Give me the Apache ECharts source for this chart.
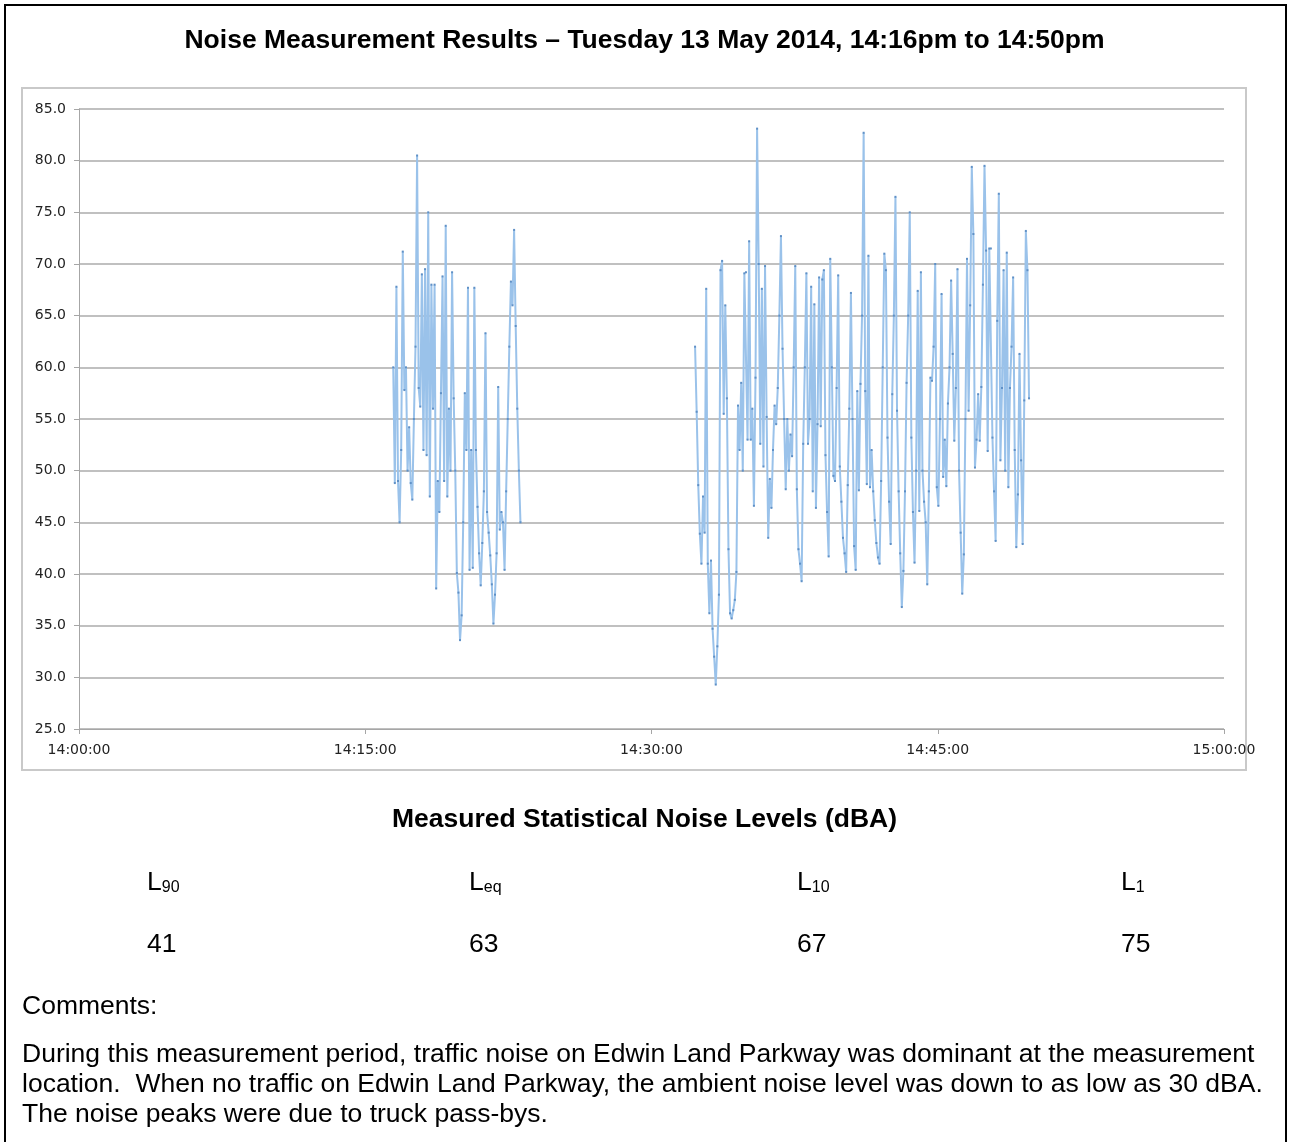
<!DOCTYPE html>
<html>
<head>
<meta charset="utf-8">
<title>Noise Measurement Results</title>
<script src="https://cdn.jsdelivr.net/npm/echarts@6/dist/echarts.min.js"></script>
<style>
  html, body { margin: 0; padding: 0; background: #fff; }
  #chart { width: 1289px; height: 1142px; }
</style>
</head>
<body>
<div id="chart"></div>
<script>
// x axis: minutes after 14:00
var xTicks = ["14:00:00", "14:15:00", "14:30:00", "14:45:00", "15:00:00"];
var stepSec = 5; // logger interval

// first run 14:16:28 onwards
var seg1Start = 988;
var seg1Levels = [60.0, 48.8, 67.8, 49.0, 45.0, 52.0, 71.2, 57.8, 60.0, 50.0,
  54.2, 48.8, 47.2, 55.0, 62.0, 80.5, 58.0, 56.2, 69.0, 52.0,
  69.5, 51.5, 75.0, 47.5, 68.0, 56.0, 68.0, 38.6, 49.0, 46.0,
  57.5, 68.8, 49.0, 73.7, 47.5, 56.0, 50.0, 69.2, 57.0, 50.0,
  40.1, 38.2, 33.6, 36.0, 45.0, 57.5, 52.0, 67.7, 40.4, 52.0,
  40.6, 67.7, 52.0, 46.5, 42.0, 38.9, 43.0, 48.0, 63.3, 46.0,
  44.0, 41.8, 39.0, 35.2, 38.0, 42.0, 58.1, 44.3, 46.0, 45.0,
  40.4, 48.0, 55.0, 62.0, 68.3, 66.0, 73.3, 64.0, 56.0, 50.0, 45.0];

// second run 14:32:17 onwards
var seg2Start = 1937;
var seg2Levels = [62.0, 55.7, 48.6, 43.9, 41.0, 47.5, 44.0, 67.6, 41.0, 36.2,
  41.3, 34.7, 32.0, 29.3, 33.0, 38.0, 69.4, 70.3, 55.5, 66.0,
  57.0, 42.4, 36.2, 35.7, 36.5, 37.5, 40.2, 56.3, 52.0, 58.5,
  50.0, 69.1, 69.2, 53.0, 72.2, 53.0, 56.0, 46.6, 59.0, 83.1,
  70.0, 52.6, 67.6, 50.4, 69.8, 55.2, 43.5, 49.2, 46.4, 52.0,
  56.3, 54.5, 58.0, 65.0, 72.7, 61.8, 55.0, 48.2, 55.0, 50.0,
  53.5, 51.4, 60.0, 69.8, 48.2, 42.4, 41.0, 39.3, 52.6, 60.0,
  69.1, 52.6, 55.0, 67.8, 48.0, 66.1, 46.4, 54.5, 68.7, 54.3,
  68.5, 69.4, 51.5, 46.0, 41.7, 70.5, 60.0, 49.5, 49.0, 58.0,
  68.9, 50.4, 47.0, 43.5, 42.0, 40.2, 48.6, 56.0, 67.2, 55.0,
  42.7, 40.4, 57.7, 48.1, 58.4, 65.0, 82.7, 57.7, 48.7, 70.8,
  48.4, 52.0, 48.0, 45.2, 43.0, 41.6, 41.0, 49.0, 60.0, 71.0,
  69.4, 53.2, 47.0, 42.9, 57.4, 65.0, 76.5, 55.8, 48.0, 42.0,
  36.8, 40.3, 48.0, 58.5, 65.0, 75.0, 53.2, 46.0, 41.1, 50.0,
  67.4, 46.1, 69.2, 50.0, 47.0, 45.0, 39.0, 48.0, 59.0, 58.7,
  62.0, 70.0, 48.4, 46.6, 55.0, 67.1, 49.4, 53.0, 48.5, 56.5,
  60.0, 68.4, 61.3, 52.9, 58.0, 69.5, 50.0, 44.0, 38.1, 41.9,
  55.0, 70.5, 55.8, 66.0, 79.4, 72.9, 50.3, 53.0, 57.4, 52.9,
  58.1, 68.0, 79.5, 71.3, 51.9, 71.5, 71.5, 53.2, 48.0, 43.2,
  64.5, 76.8, 51.0, 58.0, 69.4, 50.0, 71.1, 48.4, 58.0, 62.0,
  68.7, 52.0, 42.6, 47.7, 61.3, 51.0, 42.9, 56.8, 73.2, 69.4, 57.0];

var statNames = ["90", "eq", "10", "1"];
var statValues = [41, 63, 67, 75];

function toPoints(start, levels) {
  return levels.map(function (v, i) {
    return [(start + i * stepSec) / 60, v];
  });
}

var font = "'Liberation Sans', Arial, sans-serif";
var axisFont = "'DejaVu Sans', Verdana, sans-serif";
var statX = [147, 469, 797, 1121];

var graphics = [
  // outer frame
  { type: "rect", shape: { x: 5, y: 5, width: 1281, height: 1140 },
    style: { fill: null, stroke: "#000", lineWidth: 2 }, silent: true },
  // chart box
  { type: "rect", shape: { x: 22, y: 88, width: 1224, height: 682 },
    style: { fill: null, stroke: "#c9c9c9", lineWidth: 2 }, silent: true },
  { type: "text", left: "center", top: 27,
    style: { text: "Noise Measurement Results \u2013 Tuesday 13 May 2014, 14:16pm to 14:50pm",
      font: "bold 26.5px " + font, fill: "#000" } },
  { type: "text", left: "center", top: 806,
    style: { text: "Measured Statistical Noise Levels (dBA)", font: "bold 26.5px " + font, fill: "#000" } },
  { type: "text", left: 22, top: 993,
    style: { text: "Comments:", font: "26.5px " + font, fill: "#000" } },
  { type: "text", left: 22, top: 1040,
    style: { text: "During this measurement period, traffic noise on Edwin Land Parkway was dominant at the measurement\n" +
      "location.  When no traffic on Edwin Land Parkway, the ambient noise level was down to as low as 30 dBA.\n" +
      "The noise peaks were due to truck pass-bys.",
      font: "26.5px " + font, lineHeight: 30, fill: "#000" } }
];

statNames.forEach(function (n, i) {
  graphics.push({
    type: "text", left: statX[i], top: 869,
    style: {
      text: "{b|L}{s|" + n + "}",
      rich: {
        b: { fontSize: 26.5, fontFamily: font, lineHeight: 30, verticalAlign: "bottom", fill: "#000" },
        s: { fontSize: 16, fontFamily: font, lineHeight: 16, verticalAlign: "bottom", fill: "#000" }
      }
    }
  });
  graphics.push({
    type: "text", left: statX[i], top: 931,
    style: { text: String(statValues[i]), font: "26.5px " + font, fill: "#000" }
  });
});

var chart = echarts.init(document.getElementById("chart"));
chart.setOption({
  animation: false,
  backgroundColor: "#fff",
  grid: { left: 79, right: 65, top: 109, bottom: 413 },
  xAxis: {
    type: "value", min: 0, max: 60, interval: 15,
    axisLine: { lineStyle: { color: "#a6a6a6", width: 1 } },
    axisTick: { show: true, length: 5, lineStyle: { color: "#a6a6a6" } },
    splitLine: { show: false },
    axisLabel: {
      margin: 14, color: "#222", fontFamily: axisFont, fontSize: 14,
      formatter: function (v) { return xTicks[Math.round(v / 15)]; }
    }
  },
  yAxis: {
    type: "value", min: 25, max: 85, interval: 5,
    axisLine: { show: true, lineStyle: { color: "#a6a6a6", width: 1 } },
    axisTick: { show: true, length: 5, lineStyle: { color: "#a6a6a6" } },
    splitLine: { lineStyle: { color: "#c0c0c0", width: 2 } },
    axisLabel: {
      margin: 13, color: "#222", fontFamily: axisFont, fontSize: 14,
      formatter: function (v) { return v.toFixed(1); }
    }
  },
  series: [
    {
      type: "line", data: toPoints(seg1Start, seg1Levels),
      symbol: "rect", symbolSize: 2, showSymbol: true,
      lineStyle: { color: "#9ac2ea", width: 2 },
      itemStyle: { color: "#5f90c6" }
    },
    {
      type: "line", data: toPoints(seg2Start, seg2Levels),
      symbol: "rect", symbolSize: 2, showSymbol: true,
      lineStyle: { color: "#9ac2ea", width: 2 },
      itemStyle: { color: "#5f90c6" }
    }
  ],
  graphic: graphics
});
</script>
</body>
</html>
